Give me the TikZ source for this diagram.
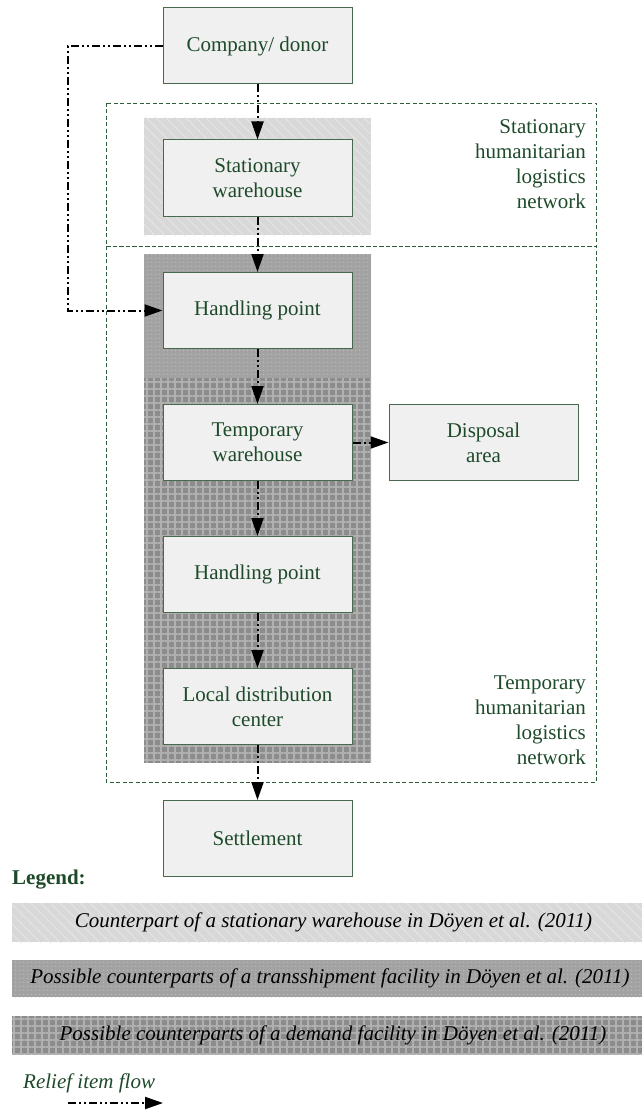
\documentclass[tikz,border=0pt]{standalone}
\usepackage{fontspec}
\setmainfont{Liberation Serif}
\usetikzlibrary{arrows.meta,patterns.meta}

\definecolor{txtgreen}{HTML}{1E4A2A}
\definecolor{boxedge}{HTML}{46694F}
\definecolor{boxfill}{HTML}{F0F0F0}
\definecolor{netgreen}{HTML}{2E5E3B}
\definecolor{hatchbase}{HTML}{D8D8D8}
\definecolor{hatchline}{HTML}{E6E6E6}
\definecolor{checkbase}{HTML}{A2A2A2}
\definecolor{checkdot}{HTML}{B8B8B8}
\definecolor{gridbase}{HTML}{8C8C8C}
\definecolor{gridline}{HTML}{B0B0B0}

\begin{document}
\begin{tikzpicture}[x=1pt,y=-1pt,
  box/.style={draw=boxedge, line width=1pt, fill=boxfill,
    minimum width=189pt, minimum height=76pt, inner sep=0pt,
    font=\fontsize{21}{25}\selectfont, text=txtgreen, align=center},
  flow/.style={line width=2pt,
    dash pattern=on 8pt off 3pt on 2pt off 3pt on 2pt off 3pt,
    -{Triangle[length=18pt,width=12pt]}},
  net/.style={draw=netgreen, line width=0.9pt, dash pattern=on 4pt off 2.5pt},
  netlabel/.style={font=\fontsize{21}{25}\selectfont, text=txtgreen,
    align=right, inner sep=0pt},
  legtext/.style={font=\fontsize{21}{25}\selectfont\itshape, text=black, inner sep=0pt},
  statbg/.style={fill=hatchbase, postaction={pattern={Lines[angle=-45,distance=7pt,line width=0.8pt]}, pattern color=hatchline}},
  transbg/.style={fill=checkbase, postaction={pattern={Dots[distance=4pt,radius=1pt]}, pattern color=checkdot}},
  demandbg/.style={fill=gridbase, postaction={pattern={Hatch[distance=7pt,line width=2pt]}, pattern color=gridline}},
]
\useasboundingbox (0,0) rectangle (642,1110);

% shaded facility backgrounds
\path[statbg]   (144,118) rectangle (371,235);
\path[transbg]  (144,254) rectangle (371,378);
\path[demandbg] (144,378) rectangle (371,763);

% network frames
\draw[net] (106,103) rectangle (596,246);
\draw[net] (106,246) rectangle (596,782);
\node[netlabel, anchor=east] (statlbl) at (586,164.5) {Stationary\\humanitarian\\logistics\\network};
\node[netlabel, anchor=east] (templbl) at (586,720.5) {Temporary\\humanitarian\\logistics\\network};

% facilities
\node[box] (company) at (257.5,46)    {Company/ donor};
\node[box] (statwh)  at (257.5,178)   {Stationary\\warehouse};
\node[box] (hp1)     at (257.5,310.5) {Handling point};
\node[box] (tempwh)  at (257.5,442.5) {Temporary\\warehouse};
\node[box] (disp)    at (483.5,442.5) {Disposal\\area};
\node[box] (hp2)     at (257.5,574.5) {Handling point};
\node[box] (ldc)     at (257.5,706.5) {Local distribution\\center};
\node[box] (settle)  at (257.5,838.5) {Settlement};

% relief item flows
\draw[flow] (company.south) -- (statwh.north);
\draw[flow] (statwh.south) -- (hp1.north);
\draw[flow] (hp1.south) -- (tempwh.north);
\draw[flow] (tempwh.east) -- (disp.west);
\draw[flow] (tempwh.south) -- (hp2.north);
\draw[flow] (hp2.south) -- (ldc.north);
\draw[flow] (ldc.south) -- (settle.north);
\draw[flow] (company.west) -- ++(-95,0) |- (hp1.west);

% legend
\node[font=\fontsize{21}{25}\selectfont\bfseries, text=txtgreen, anchor=west, inner sep=0pt] (leghead) at (12,880) {Legend:};
\path[statbg]   (12,903) rectangle (642,942);
\path[transbg]  (12,960) rectangle (642,997);
\path[demandbg] (12,1016) rectangle (642,1054);
\node[legtext] (leg1) at (333.5,922.5) {Counterpart of a stationary warehouse in Döyen et al. (2011)};
\node[legtext] (leg2) at (330,978.5) {Possible counterparts of a transshipment facility in Döyen et al. (2011)};
\node[legtext] (leg3) at (333,1035) {Possible counterparts of a demand facility in Döyen et al. (2011)};
\node[legtext, text=txtgreen, anchor=west] (legflow) at (23,1083) {Relief item flow};
\coordinate (flowa) at (68,1103);
\coordinate (flowb) at (163,1103);
\draw[flow] (flowa) -- (flowb);
\end{tikzpicture}
\end{document}
